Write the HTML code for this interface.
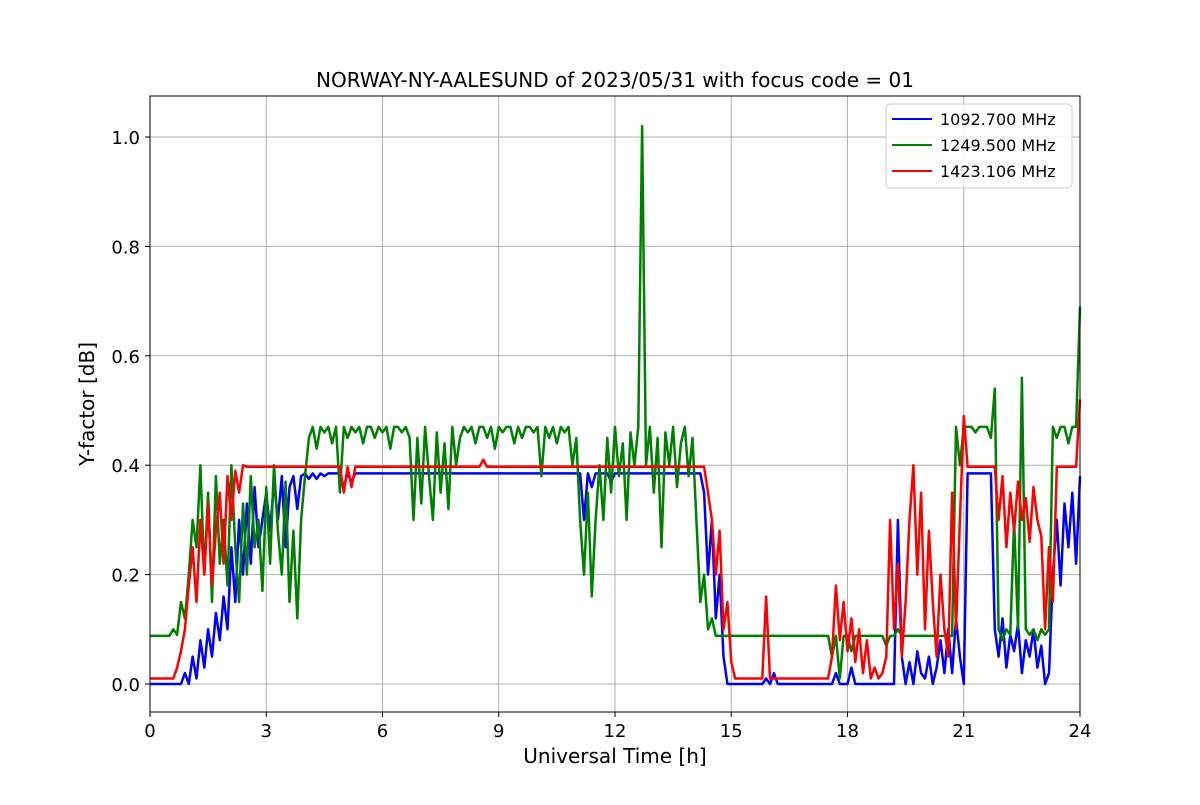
<!DOCTYPE html>
<html><head><meta charset="utf-8"><style>
body{margin:0;background:#fff}
svg text{font-family:"DejaVu Sans","Liberation Sans",sans-serif;fill:#000}
</style></head><body>
<svg id="chart" width="1200" height="800" viewBox="0 0 1200 800">
<rect width="1200" height="800" fill="#fff"/>
<g id="grid"></g>
<g id="series"></g>
<rect x="150" y="96" width="930" height="616" fill="none" stroke="#000" stroke-width="1"/>
<g id="ticks"></g>
<text x="615" y="87" font-size="20" text-anchor="middle">NORWAY-NY-AALESUND of 2023/05/31 with focus code = 01</text>
<text x="615" y="763" font-size="20" text-anchor="middle">Universal Time [h]</text>
<text transform="translate(94,404) rotate(-90)" font-size="20" text-anchor="middle">Y-factor [dB]</text>
<g>
<rect x="886" y="104" width="186" height="84" rx="4" fill="#fff" fill-opacity="0.8" stroke="#ccc"/>
<g><line x1="892" y1="119" x2="932" y2="119" stroke="#0000ff" stroke-width="2"/><text x="940" y="125" font-size="16">1092.700 MHz</text></g>
<g><line x1="892" y1="145" x2="932" y2="145" stroke="#008000" stroke-width="2"/><text x="940" y="151" font-size="16">1249.500 MHz</text></g>
<g><line x1="892" y1="171" x2="932" y2="171" stroke="#ff0000" stroke-width="2"/><text x="940" y="177" font-size="16">1423.106 MHz</text></g>
</g>
</svg>
<script>
function rep(v,n){return Array(n).fill(v);}
const xTicks=[0,3,6,9,12,15,18,21,24];
const yTicks=[0.0,0.2,0.4,0.6,0.8,1.0];
const yTickLabels=["0.0","0.2","0.4","0.6","0.8","1.0"];
const timeStep=0.1;
const blue=[].concat(rep(0,9),
[.02,0,.05,.01,.08,.03,.1,.05,.13,.08,.16,.1],
[.25,.15,.3,.2,.33,.22,.36,.25,.3,.35],
[.28,.37,.3,.38,.25,.36,.38,.32,.38,.385],
[.375,.385,.375,.385,.38,.385],rep(.385,3),[.36,.385,.37],rep(.385,59),[.3,.385,.36],rep(.385,4),[.37],rep(.385,23),
[.35,.2,.3,.12,.2,.05],
rep(0,10),[.01,0,.02],rep(0,15),[.02,0,0,0,.03],rep(0,11),
[.3],[.05],
[0,.04,0,.06,.02,.01,.05,0,.03,.08,.02],
[.1,.02,.12,.05,0],
rep(.385,7),
[.1,.05,.12,.03,.09,.06,.11,.02,.08,.05,.1,.03,.07,0,.02],
[.2,.3,.18,.33,.25,.35,.22,.38]);
const green=[].concat(rep(.088,6),
[.1,.09,.15,.12,.2,.3,.25],
[.4,.2,.35,.15,.38,.22,.3,.18,.4,.25,.15,.33,.2,.38,.25,.3,.17,.36,.22,.4,.28,.2,.37],
[.15,.28,.12,.3,.38],
[.45,.47,.43,.47,.46,.47,.44,.47,.35,.47,.45,.47,.46,.47,.44,.47,.47,.45,.47,.46,.47,.43,.47,.47,.46,.47,.45],
[.3,.45,.33,.47,.38,.3,.46,.35,.44,.32,.47,.4,.45],
[.47,.46,.47,.44,.47,.47,.45,.47,.43,.47,.46,.47,.47,.44,.47,.45,.47,.47,.46,.47,.38,.47,.45,.47,.44,.47,.46,.47,.4,.45],
[.3,.2,.35,.16,.3],
[.4,.3,.45,.35,.47,.38,.44,.3,.46,.4,.47],
[1.02],
[.4,.47,.35,.45,.25,.46,.4,.47,.36,.44,.47,.38,.45],
[.3,.15,.2,.1,.12],
rep(.088,30),
[.05,.088,.01,.088,.088,.06],rep(.088,8),[.07,.088,.088,.1],rep(.088,14),
[.47,.4,.47,.47,.47,.46,.47,.47,.47,.45],
[.54],
[.1,.08,.1,.09,.3,.1,.56,.1,.09,.1,.08,.1,.09,.1],
[.47,.45,.47,.47,.44,.47,.47,.69]);
const red=[].concat(rep(.01,7),
[.03,.06,.1,.18],
[.25,.15,.3,.2,.33,.18,.28,.35,.22,.38],
[.3,.39,.35,.4,.397],
rep(.397,24),[.35,.397,.36],rep(.397,33),[.41,.397],rep(.397,56),
[.35,.3,.2,.28,.1,.15,.04],
rep(.01,8),[.16],rep(.01,16),
[.05,.18,.08,.15,.06,.12,.04,.1,.02,.08],
[.01,.03,.01,.02,.05],
[.3,.1,.22,.05,.15],
[.3,.4,.2,.35,.1,.28,.15,.05,.2,.1],
[.05,.35,.1,.3,.49],
rep(.397,8),
[.3,.38,.25,.35,.28,.37,.3,.34,.26,.36,.3,.27],
[.1,.25,.15],
rep(.397,6),[.52]);
const L=150,R=1080,T=96,B=712;
const xs=t=>L+(t/24)*(R-L);
const ys=v=>684-v*547;
const NS='http://www.w3.org/2000/svg';
const grid=document.getElementById('grid'),ticks=document.getElementById('ticks'),ser=document.getElementById('series');
function mk(tag,attrs,parent){const e=document.createElementNS(NS,tag);for(const k in attrs)e.setAttribute(k,attrs[k]);parent.appendChild(e);return e;}
xTicks.forEach(t=>{
 const g=mk('line',{x1:xs(t),x2:xs(t),y1:T,y2:B,stroke:'#b0b0b0','stroke-width':1},grid);
 
 
 const tk=mk('line',{x1:xs(t),x2:xs(t),y1:B,y2:B+5,stroke:'#000'},ticks);
 
 
 const tx=mk('text',{x:xs(t),y:B+25,'font-size':18,'text-anchor':'middle'},ticks);
 tx.textContent=t;
 
 
});
yTicks.forEach((v,i)=>{
 const g=mk('line',{x1:L,x2:R,y1:ys(v),y2:ys(v),stroke:'#b0b0b0','stroke-width':1},grid);
 
 
 const tk=mk('line',{x1:L-5,x2:L,y1:ys(v),y2:ys(v),stroke:'#000'},ticks);
 
 
 const tx=mk('text',{x:L-10,y:ys(v)+7,'font-size':18,'text-anchor':'end'},ticks);
 tx.textContent=yTickLabels[i];
 
 
});
[[blue,'#0000ff','series-1092-mhz'],[green,'#008000','series-1249-mhz'],[red,'#ff0000','series-1423-mhz']].forEach(([d,c,n])=>{
 const pts=d.map((v,i)=>xs(i*timeStep).toFixed(1)+','+ys(v).toFixed(1)).join(' ');
 const p=mk('polyline',{points:pts,fill:'none',stroke:c,'stroke-width':2.5,'stroke-linejoin':'round'},ser);
 
 
});
</script>
</body></html>
